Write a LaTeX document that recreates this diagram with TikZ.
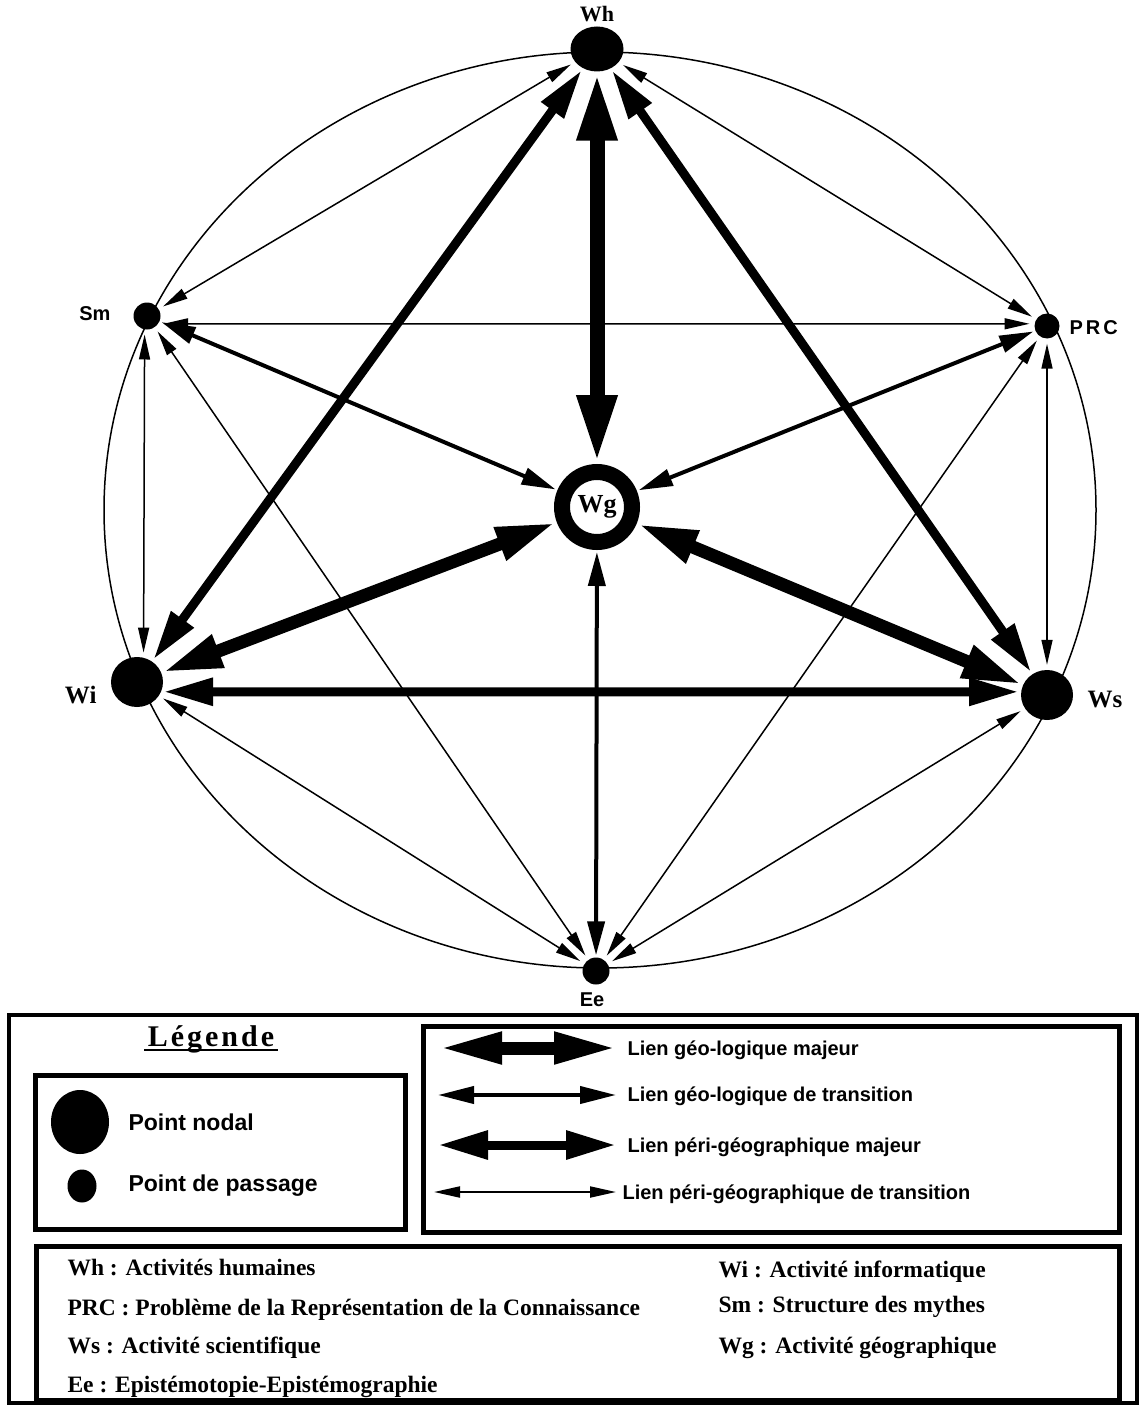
\documentclass[tikz,border=0pt]{standalone}
\usepackage{fontspec}
\setmainfont{Liberation Serif}
\newfontfamily\arialf{Liberation Sans}
\usetikzlibrary{arrows.meta,shapes.geometric}
\begin{document}
\begin{tikzpicture}[x=1pt,y=-1pt,
  hub/.style={ellipse,fill=black,inner sep=0pt,minimum width=52pt,minimum height=50pt},
  pass/.style={circle,fill=black,inner sep=0pt,minimum size=27pt},
  geomaj/.style={line width=13pt,>={Triangle[length=60pt,width=32pt]},<->,shorten >=1pt,shorten <=1pt},
  geomajv/.style={line width=15pt,>={Triangle[length=68pt,width=37pt]},<->,shorten >=1pt,shorten <=1pt},
  geotr/.style={line width=4pt,>={Triangle[length=34pt,width=17pt]},<->,shorten >=2pt,shorten <=2pt},
  perimaj/.style={line width=9pt,>={Triangle[length=50pt,width=26pt]},<->,shorten >=2pt,shorten <=2pt},
  peritr/.style={line width=1.5pt,>={Triangle[length=25pt,width=11pt]},<->,shorten >=5pt,shorten <=5pt},
  serlab/.style={font=\fontsize{25}{28}\selectfont\bfseries},
  sanlab/.style={font=\arialf\fontsize{20}{24}\selectfont\bfseries},
  legtxt/.style={font=\arialf\fontsize{20}{24}\selectfont\bfseries,anchor=base west},
  pttxt/.style={font=\arialf\fontsize{23}{26}\selectfont\bfseries,anchor=base west},
  deftxt/.style={font=\fontsize{23.5}{27}\selectfont\bfseries,anchor=base west},
  frame/.style={draw=black,line width=5pt}
]
\useasboundingbox (0,0) rectangle (1144,1407);
% outer ellipse
\draw[line width=1.5pt] (600,510) ellipse [x radius=496pt, y radius=458pt];
% nodes
\node[hub,minimum width=53pt,minimum height=45pt] (Wh) at (597,49) {};
\node[hub] (Wi) at (137,682) {};
\node[hub] (Ws) at (1047,695) {};
\node[pass] (Sm) at (147,316) {};
\node[pass,minimum size=25pt] (PRC) at (1047,326) {};
\node[pass] (Ee) at (596,971) {};
\node[circle,draw=black,line width=16pt,minimum size=70pt,inner sep=0pt,font=\fontsize{26}{28}\selectfont\bfseries] (Wg) at (597,507) {Wg};
% labels
\node[anchor=base,font=\fontsize{22}{26}\selectfont\bfseries] (tWh) at (597,22) {Wh};
\node[sanlab,anchor=base east] (tSm) at (114,320) {Sm};
\node[sanlab,anchor=base west] (tPRC) at (1066,334) {P\kern3pt R\kern3pt C};
\node[serlab,anchor=base east] (tWi) at (100,703) {Wi};
\node[serlab,anchor=base west] (tWs) at (1084,707) {Ws};
\node[sanlab,anchor=base] (tEe) at (592,1006) {Ee};
% geo-logique majeur
\draw[geomajv] (Wh) -- (Wg);
\draw[geomaj] (Wg) -- (Wi);
\draw[geomaj] (Wg) -- (Ws);
% peri-geographique majeur
\draw[perimaj] (Wh) -- (Wi);
\draw[perimaj] (Wh) -- (Ws);
\draw[perimaj] (Wi.-22) -- (Ws.173);
% geo-logique de transition
\draw[geotr] (Sm) -- (Wg);
\draw[geotr] (PRC) -- (Wg);
\draw[geotr] (Ee) -- (Wg);
% peri-geographique de transition
\draw[peritr] (Wh) -- (Sm);
\draw[peritr] (Wh) -- (PRC);
\draw[peritr] (Sm.-35) -- (PRC.170);
\draw[peritr] (Sm.260) -- (Wi.75);
\draw[peritr] (PRC) -- (Ws);
\draw[peritr] (Sm) -- (Ee);
\draw[peritr] (PRC) -- (Ee);
\draw[peritr] (Wi) -- (Ee);
\draw[peritr] (Ws) -- (Ee);
% legend frames
\draw[line width=4.5pt] (9,1015) rectangle (1137,1403);
\draw[frame] (35,1075) rectangle (405,1229);
\draw[frame] (423,1026) rectangle (1119,1232);
\draw[frame] (36,1246) rectangle (1119,1400);
% legend title
\node[anchor=base,font=\fontsize{30}{34}\selectfont\bfseries] (leg) at (211,1046) {L\kern3pt é\kern3pt g\kern3pt e\kern3pt n\kern3pt d\kern3pt e};
\draw[line width=2pt] ([yshift=-4pt]leg.base west) -- ([yshift=-4pt]leg.base east);
% point types
\node[ellipse,fill=black,minimum width=58pt,minimum height=64pt,inner sep=0pt] (pn) at (80,1122) {};
\node[ellipse,fill=black,minimum width=29pt,minimum height=33pt,inner sep=0pt] (pp) at (82,1186) {};
\node[pttxt] (tpn) at (125,1130) {Point nodal};
\node[pttxt] (tpp) at (125,1191) {Point de passage};
% link types
\coordinate (l1a) at (438,1048); \coordinate (l1b) at (618,1048);
\coordinate (l2a) at (438,1095); \coordinate (l2b) at (616,1095);
\coordinate (l3a) at (438,1145); \coordinate (l3b) at (616,1145);
\coordinate (l4a) at (434,1192); \coordinate (l4b) at (616,1192);
\draw[line width=13pt,>={Triangle[length=64pt,width=29pt]},<->] (l1a) -- (l1b);
\draw[line width=4pt,>={Triangle[length=36pt,width=17pt]},<->] (l2a) -- (l2b);
\draw[line width=9pt,>={Triangle[length=50pt,width=27pt]},<->] (l3a) -- (l3b);
\draw[line width=2pt,>={Triangle[length=26pt,width=11pt]},<->] (l4a) -- (l4b);
\node[legtxt] (t1) at (624,1055) {Lien géo-logique majeur};
\node[legtxt] (t2) at (624,1101) {Lien géo-logique de transition};
\node[legtxt] (t3) at (624,1152) {Lien péri-géographique majeur};
\node[legtxt] (t4) at (619,1199) {Lien péri-géographique de transition};
% definitions
\node[deftxt] (d1) at (64,1275) {Wh : Activités humaines};
\node[deftxt] (d2) at (64,1315) {PRC : Problème de la Représentation de la Connaissance};
\node[deftxt] (d3) at (64,1353) {Ws : Activité scientifique};
\node[deftxt] (d4) at (64,1392) {Ee : Epistémotopie-Epistémographie};
\node[deftxt] (d5) at (715,1277) {Wi : Activité informatique};
\node[deftxt] (d6) at (715,1312) {Sm : Structure des mythes};
\node[deftxt] (d7) at (715,1353) {Wg : Activité géographique};
\end{tikzpicture}
\end{document}
